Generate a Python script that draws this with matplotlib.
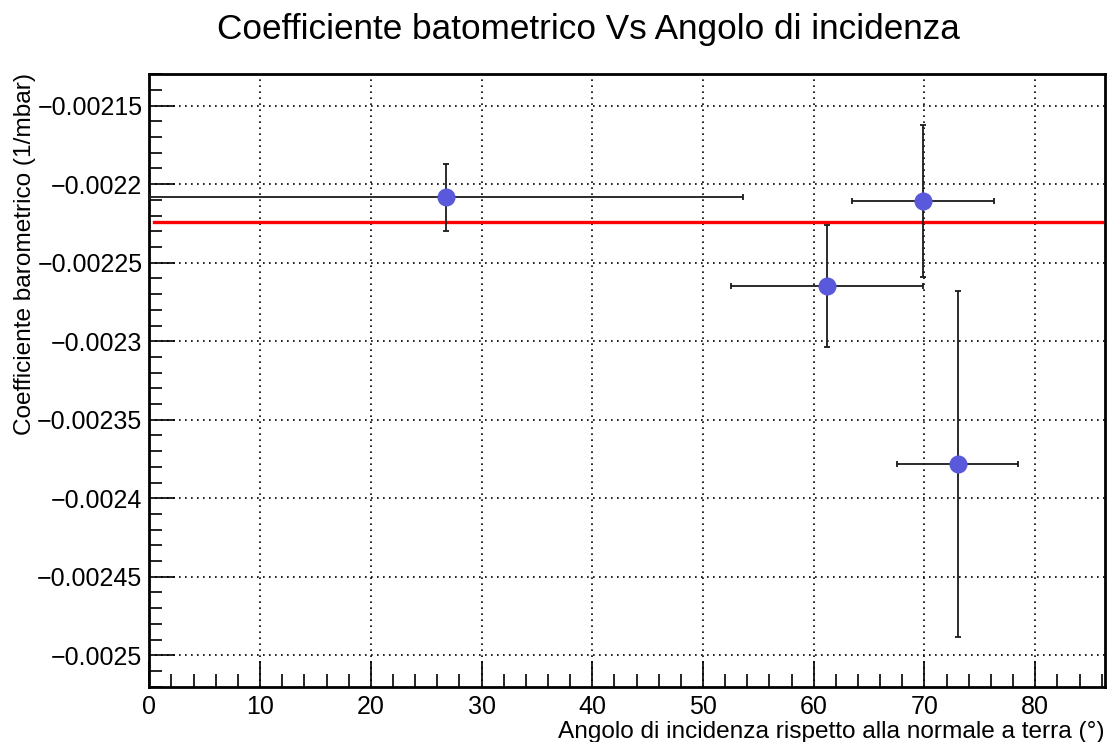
import matplotlib
matplotlib.use("Agg")
import matplotlib.pyplot as plt
from matplotlib.ticker import MultipleLocator, FixedLocator, FixedFormatter

plt.rcParams['font.family'] = ['Liberation Sans', 'DejaVu Sans']

# Data
angles = [26.8, 61.2, 69.9, 73.0]
angle_err = [26.85, 8.67, 6.42, 5.47]
coeff = [-0.0022083, -0.0022649, -0.0022105, -0.0023782]
coeff_err = [0.0000212, 0.0000389, 0.0000483, 0.0001102]
fit_value = -0.0022239
fit_range = [0.4, 86.0]

y_ticks = [-0.00215, -0.0022, -0.00225, -0.0023, -0.00235, -0.0024, -0.00245, -0.0025]
y_tick_labels = ["\u22120.00215", "\u22120.0022", "\u22120.00225", "\u22120.0023",
                 "\u22120.00235", "\u22120.0024", "\u22120.00245", "\u22120.0025"]
x_ticks = [0, 10, 20, 30, 40, 50, 60, 70, 80]

title = "Coefficiente batometrico Vs Angolo di incidenza"
xlabel = "Angolo di incidenza rispetto alla normale a terra (\u00b0)"
ylabel = "Coefficiente barometrico (1/mbar)"

fig = plt.figure(figsize=(11.12, 7.42), dpi=100)
ax = fig.add_axes([0.1343, 0.0745, 0.8594, 0.8254])

ax.set_xlim(0, 86.3)
ax.set_ylim(-0.00252, -0.00213)

ax.grid(True, which='major', color='black', linestyle=(0, (1, 2.6)), linewidth=1.2)
ax.set_axisbelow(True)

ax.plot(fit_range, [fit_value, fit_value], color='#ff0000', linewidth=2.4, zorder=3)

ax.errorbar(angles, coeff, xerr=angle_err, yerr=coeff_err, fmt='o',
            color='#5a59dc', markersize=12, ecolor='#1a1a1a', elinewidth=1.3,
            capsize=2.5, capthick=1.3, zorder=4)

ax.xaxis.set_major_locator(FixedLocator(x_ticks))
ax.xaxis.set_minor_locator(MultipleLocator(2))
ax.yaxis.set_major_locator(FixedLocator(y_ticks))
ax.yaxis.set_major_formatter(FixedFormatter(y_tick_labels))
ax.yaxis.set_minor_locator(MultipleLocator(0.00001))

ax.tick_params(which='both', direction='in', top=False, right=False, labelsize=18, colors='black')
ax.tick_params(which='major', length=19, width=1.2)
ax.tick_params(which='minor', length=9.5, width=1.2)
ax.tick_params(axis='y', pad=5)
ax.tick_params(axis='x', pad=6)

for sp in ax.spines.values():
    sp.set_linewidth(2)

fig.text(0.529, 1 - 30 / 742, title, ha='center', va='center', fontsize=25.3)
fig.text(1105 / 1112, 1 - 732 / 742, xlabel, ha='right', va='center', fontsize=17.6)
fig.text(25 / 1112, 1 - 73 / 742, ylabel, ha='center', va='top', rotation=90, fontsize=17.6)

fig.savefig("out.png", dpi=100)
